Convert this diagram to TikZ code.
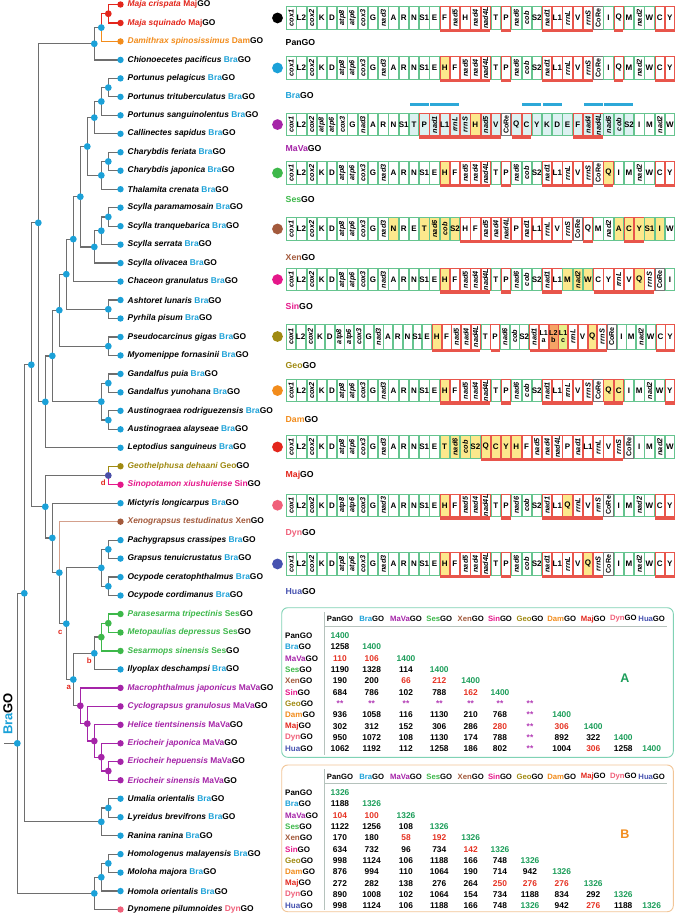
\documentclass[tikz,border=0pt]{standalone}
\usepackage{fontspec}
\setmainfont{Liberation Sans}
\usetikzlibrary{calc}
\definecolor{lg}{HTML}{6E6E6E}
\definecolor{cBra}{HTML}{1BA1D8}
\definecolor{cMaj}{HTML}{E3261C}
\definecolor{cDam}{HTML}{F28C1C}
\definecolor{cGeo}{HTML}{A08A12}
\definecolor{cSin}{HTML}{E5178A}
\definecolor{cXen}{HTML}{A35A3C}
\definecolor{cXenL}{HTML}{D4A08C}
\definecolor{cSes}{HTML}{3DB84A}
\definecolor{cMaVa}{HTML}{A524A8}
\definecolor{cDyn}{HTML}{F0607A}
\definecolor{cHua}{HTML}{4652B0}
\definecolor{cNavy}{HTML}{4A4FA8}
\definecolor{bG}{HTML}{66C48F}
\definecolor{bR}{HTML}{E8554B}
\definecolor{bK}{HTML}{7A7A7A}
\definecolor{fY}{HTML}{FCE88C}
\definecolor{fC}{HTML}{DCF1F1}
\definecolor{fO}{HTML}{F5A365}
\definecolor{fL}{HTML}{E6F08A}
\definecolor{tg}{HTML}{1C9E5A}
\definecolor{tr}{HTML}{E63222}
\definecolor{tp}{HTML}{B23AB5}
\definecolor{tk}{HTML}{000000}
\definecolor{boxA}{HTML}{80D2B5}
\definecolor{boxB}{HTML}{F2C597}
\definecolor{rule}{HTML}{B5C2BC}
\definecolor{bar}{HTML}{2DA8D8}

\tikzset{
  edge/.style={line width=1.25pt, lg},
  tup/.style={font=\bfseries\fontsize{8}{9}\selectfont, inner sep=0pt},
  trot/.style={font=\bfseries\itshape\fontsize{7.3}{8}\selectfont, rotate=90, inner sep=0pt},
  tcore/.style={font=\bfseries\fontsize{7.1}{8}\selectfont, rotate=90, inner sep=0pt},
  ttwo/.style={font=\bfseries\fontsize{7.2}{7.6}\selectfont, align=center, inner sep=0pt},
  lbl/.style={anchor=west, inner sep=0pt, font=\bfseries\fontsize{8.4}{10}\selectfont},
  glab/.style={anchor=west, inner sep=0pt, font=\bfseries\fontsize{8.7}{10}\selectfont},
  clab/.style={font=\bfseries\fontsize{7.8}{9}\selectfont, text=cMaj, inner sep=0pt},
  rlab/.style={anchor=west, inner sep=0pt, font=\bfseries\fontsize{8}{9}\selectfont},
  hlab/.style={inner sep=0pt, font=\bfseries\fontsize{7.7}{9}\selectfont},
  tval/.style={inner sep=0pt, font=\bfseries\fontsize{8.4}{9}\selectfont},
}

\newcommand\mkcell[8]{%
  \filldraw[draw=#5, fill=#6, line width=0.65pt] ({#1+0.4},{#2}) rectangle ({#1+#3-0.4},{#2+#4});
  \node[#7] at ({#1+#3/2},{#2+#4/2}) {#8};}
\newcommand\gcXg[5]{\mkcell{#1}{#2}{#3}{#4}{bG}{white}{tup}{#5}}
\newcommand\gcXG[5]{\mkcell{#1}{#2}{#3}{#4}{bG}{white}{trot}{#5}}
\newcommand\gcXr[5]{\mkcell{#1}{#2}{#3}{#4}{bR}{white}{tup}{#5}}
\newcommand\gcXR[5]{\mkcell{#1}{#2}{#3}{#4}{bR}{white}{trot}{#5}}
\newcommand\gcXC[5]{\mkcell{#1}{#2}{#3}{#4}{bK}{white}{tcore}{#5}}
\newcommand\gcXyg[5]{\mkcell{#1}{#2}{#3}{#4}{bG}{fY}{tup}{#5}}
\newcommand\gcXyG[5]{\mkcell{#1}{#2}{#3}{#4}{bG}{fY}{trot}{#5}}
\newcommand\gcXyr[5]{\mkcell{#1}{#2}{#3}{#4}{bR}{fY}{tup}{#5}}
\newcommand\gcXyR[5]{\mkcell{#1}{#2}{#3}{#4}{bR}{fY}{trot}{#5}}
\newcommand\gcXcg[5]{\mkcell{#1}{#2}{#3}{#4}{bG}{fC}{tup}{#5}}
\newcommand\gcXcG[5]{\mkcell{#1}{#2}{#3}{#4}{bG}{fC}{trot}{#5}}
\newcommand\gcXcr[5]{\mkcell{#1}{#2}{#3}{#4}{bR}{fC}{tup}{#5}}
\newcommand\gcXcR[5]{\mkcell{#1}{#2}{#3}{#4}{bR}{fC}{trot}{#5}}
\newcommand\gcXqa[5]{\mkcell{#1}{#2}{#3}{#4}{bR}{white}{ttwo}{L1\\a}}
\newcommand\gcXqb[5]{\mkcell{#1}{#2}{#3}{#4}{bR}{fO}{ttwo}{L2\\b}}
\newcommand\gcXqc[5]{\mkcell{#1}{#2}{#3}{#4}{bR}{fL}{ttwo}{L1\\c}}

\newcommand\gostrip[5]{%
  \pgfmathsetmacro\cw{389/#2}
  \foreach \tx/\sc [count=\i from 0] in {#4} {
    \pgfmathsetmacro\xl{286+\i*\cw}
    \csname gcX\sc\endcsname{\xl}{#1}{\cw}{#3}{\tx}
  }
  \foreach \a/\b in {#5} {
    \fill[bR] ({286+(\a-1)*\cw+0.4},{#1+#3+0.3}) rectangle ({286+\b*\cw-0.4},{#1+#3+3});
  }}
\newcommand\golab[5]{%
  \fill[#3] (277.5,{#1+#2/2}) circle (5.4);
  \node[glab] at (285.5,#5) {\textcolor{#3}{#4}GO};}

\newcommand\tn[6]{%
  \path ($(#3)!0.5!(#4)$) coordinate (m#1);
  \coordinate (#1) at (X#2 |- m#1);
  \draw[edge,#5] (#1) |- (#3);
  \draw[edge,#6] (#1) |- (#4);}
\newcommand\lf[5]{%
  \fill[#4] (l#1) circle (3.2);
  \node[lbl, text=#2] at ($(l#1)+(7,0)$) {\itshape #3\ \upshape\textcolor{#4}{#5}\textcolor{black}{GO}};}

\newcommand\trow[4]{%
  \node[rlab] at (285,#1) {\textcolor{#2}{#3}GO};
  \foreach \v/\c [count=\j from 0] in {#4} {
    \pgfmathsetmacro\cx{{340,371.7,406,439.3,470.7,500,530,561.7,593.3,623.3,651.7}[\j]}
    \node[tval, text=\c] at (\cx,#1) {\v};
  }}
\newcommand\thead[1]{%
  \foreach \ab/\c [count=\j from 0] in {Pan/black,Bra/cBra,MaVa/cMaVa,Ses/cSes,Xen/cXen,Sin/cSin,Geo/cGeo,Dam/cDam,Maj/cMaj,Dyn/cDyn,Hua/cHua} {
    \pgfmathsetmacro\cx{{340,371.7,406,439.3,470.7,500,530,561.7,593.3,623.3,651.7}[\j]}
    \node[hlab] at (\cx,#1) {\textcolor{\c}{\ab}GO};
  }}

\begin{document}
\begin{tikzpicture}[x=1pt,y=-1pt]
\fill[white] (0,0) rectangle (675,914);
\useasboundingbox (0,0) rectangle (675,914);

% ---------------- tree ----------------
\foreach \L in {0,...,13} \coordinate (X\L) at ({108.3-7*\L},0);
\foreach \i in {1,...,50} \coordinate (l\i) at (120.5,{4.5+18.47*(\i-1)});

\tn{n1}{0}{l1}{l2}{cMaj}{cMaj}
\tn{n2}{1}{n1}{l3}{cMaj}{cDam}
\tn{n3}{2}{n2}{l4}{lg}{lg}
\tn{n4}{0}{l5}{l6}{lg}{lg}
\tn{n5}{1}{n4}{l7}{lg}{lg}
\tn{n6}{2}{n5}{l8}{lg}{lg}
\tn{n7}{0}{l9}{l10}{lg}{lg}
\tn{n8}{1}{n7}{l11}{lg}{lg}
\tn{n9}{3}{n6}{n8}{lg}{lg}
\tn{n10}{0}{l12}{l13}{lg}{lg}
\tn{n11}{1}{n10}{l14}{lg}{lg}
\tn{n12}{2}{n11}{l15}{lg}{lg}
\tn{n13}{4}{n9}{n12}{lg}{lg}
\tn{n14}{5}{n13}{l16}{lg}{lg}
\tn{n15}{0}{l17}{l18}{lg}{lg}
\tn{n16}{6}{n14}{n15}{lg}{lg}
\tn{n17}{0}{l19}{l20}{lg}{lg}
\tn{n18}{7}{n16}{n17}{lg}{lg}
\tn{n19}{0}{l21}{l22}{lg}{lg}
\tn{n20}{0}{l23}{l24}{lg}{lg}
\tn{n21}{1}{n19}{n20}{lg}{lg}
\tn{n22}{8}{n18}{n21}{lg}{lg}
\tn{n23}{9}{n22}{l25}{lg}{lg}
\tn{n24}{10}{n3}{n23}{lg}{lg}
\tn{n25}{0}{l26}{l27}{cGeo}{cSin}
\tn{n26}{0}{l30}{l31}{lg}{lg}
\tn{n27}{0}{l32}{l33}{lg}{lg}
\tn{n28}{1}{n26}{n27}{lg}{lg}
\tn{n29}{0}{l34}{l35}{cSes}{cSes}
\tn{n30}{1}{n29}{l36}{cSes}{cSes}
\tn{n31}{2}{n30}{l37}{lg}{lg}
\tn{n32}{0}{l42}{l43}{cMaVa}{cMaVa}
\tn{n33}{1}{l41}{n32}{cMaVa}{cMaVa}
\tn{n34}{2}{l40}{n33}{cMaVa}{cMaVa}
\tn{n35}{3}{l39}{n34}{cMaVa}{cMaVa}
\tn{n36}{4}{l38}{n35}{cMaVa}{cMaVa}
\tn{n37}{5}{n31}{n36}{lg}{lg}
\tn{n38}{6}{n28}{n37}{lg}{lg}
\tn{n39}{7}{l29}{n38}{cXenL}{lg}
\tn{n40}{8}{l28}{n39}{lg}{lg}
\tn{n41}{9}{n25}{n40}{lg}{lg}
\tn{n42}{11}{n24}{n41}{lg}{lg}
\tn{n43}{0}{l44}{l45}{lg}{lg}
\tn{n44}{1}{n43}{l46}{lg}{lg}
\tn{n45}{12}{n42}{n44}{lg}{lg}
\tn{n46}{0}{l47}{l48}{lg}{lg}
\tn{n47}{1}{n46}{l49}{lg}{lg}
\tn{n48}{2}{n47}{l50}{lg}{lg}
\tn{root}{13}{n45}{n48}{lg}{lg}
\coordinate (stem) at ($(root)+(-13,0)$);
\draw[edge] (stem) -- (root);

\foreach \n/\c in {n1/cMaj,n2/cBra,n3/cBra,n4/cBra,n5/cBra,n6/cBra,n7/cBra,n8/cBra,n9/cBra,n10/cBra,n11/cBra,n12/cBra,n13/cBra,n14/cBra,n15/cBra,n16/cBra,n17/cBra,n18/cBra,n19/cBra,n20/cBra,n21/cBra,n22/cBra,n23/cBra,n24/cBra,n25/cNavy,n26/cBra,n27/cBra,n28/cBra,n29/cSes,n30/cSes,n31/cBra,n32/cMaVa,n33/cMaVa,n34/cMaVa,n35/cMaVa,n36/cMaVa,n37/cBra,n38/cBra,n39/cBra,n40/cBra,n41/cBra,n42/cBra,n43/cBra,n44/cBra,n45/cBra,n46/cBra,n47/cBra,n48/cBra,root/cBra}
  \fill[fill=\c] (\n) circle (3.4);

\node[clab] (la) at ($(n37)+(-4.5,8)$) {a};
\node[clab] (lb) at ($(n31)+(-5,7)$) {b};
\node[clab] (lc) at ($(n38)+(-6,8.5)$) {c};
\node[clab] (ld) at ($(n25)+(-5,7.5)$) {d};

\node[rotate=90, inner sep=0pt, font=\bfseries\fontsize{13}{14}\selectfont] (bra) at (8,714) {\textcolor{cBra}{Bra}GO};

\lf{1}{cMaj}{Maja crispata}{cMaj}{Maj}
\lf{2}{cMaj}{Maja squinado}{cMaj}{Maj}
\lf{3}{cDam}{Damithrax spinosissimus}{cDam}{Dam}
\lf{4}{black}{Chionoecetes pacificus}{cBra}{Bra}
\lf{5}{black}{Portunus pelagicus}{cBra}{Bra}
\lf{6}{black}{Portunus trituberculatus}{cBra}{Bra}
\lf{7}{black}{Portunus sanguinolentus}{cBra}{Bra}
\lf{8}{black}{Callinectes sapidus}{cBra}{Bra}
\lf{9}{black}{Charybdis feriata}{cBra}{Bra}
\lf{10}{black}{Charybdis japonica}{cBra}{Bra}
\lf{11}{black}{Thalamita crenata}{cBra}{Bra}
\lf{12}{black}{Scylla paramamosain}{cBra}{Bra}
\lf{13}{black}{Scylla tranquebarica}{cBra}{Bra}
\lf{14}{black}{Scylla serrata}{cBra}{Bra}
\lf{15}{black}{Scylla olivacea}{cBra}{Bra}
\lf{16}{black}{Chaceon granulatus}{cBra}{Bra}
\lf{17}{black}{Ashtoret lunaris}{cBra}{Bra}
\lf{18}{black}{Pyrhila pisum}{cBra}{Bra}
\lf{19}{black}{Pseudocarcinus gigas}{cBra}{Bra}
\lf{20}{black}{Myomenippe fornasinii}{cBra}{Bra}
\lf{21}{black}{Gandalfus puia}{cBra}{Bra}
\lf{22}{black}{Gandalfus yunohana}{cBra}{Bra}
\lf{23}{black}{Austinograea rodriguezensis}{cBra}{Bra}
\lf{24}{black}{Austinograea alayseae}{cBra}{Bra}
\lf{25}{black}{Leptodius sanguineus}{cBra}{Bra}
\lf{26}{cGeo}{Geothelphusa dehaani}{cGeo}{Geo}
\lf{27}{cSin}{Sinopotamon xiushuiense}{cSin}{Sin}
\lf{28}{black}{Mictyris longicarpus}{cBra}{Bra}
\lf{29}{cXen}{Xenograpsus testudinatus}{cXen}{Xen}
\lf{30}{black}{Pachygrapsus crassipes}{cBra}{Bra}
\lf{31}{black}{Grapsus tenuicrustatus}{cBra}{Bra}
\lf{32}{black}{Ocypode ceratophthalmus}{cBra}{Bra}
\lf{33}{black}{Ocypode cordimanus}{cBra}{Bra}
\lf{34}{cSes}{Parasesarma tripectinis}{cSes}{Ses}
\lf{35}{cSes}{Metopaulias depressus}{cSes}{Ses}
\lf{36}{cSes}{Sesarmops sinensis}{cSes}{Ses}
\lf{37}{black}{Ilyoplax deschampsi}{cBra}{Bra}
\lf{38}{cMaVa}{Macrophthalmus japonicus}{cMaVa}{MaVa}
\lf{39}{cMaVa}{Cyclograpsus granulosus}{cMaVa}{MaVa}
\lf{40}{cMaVa}{Helice tientsinensis}{cMaVa}{MaVa}
\lf{41}{cMaVa}{Eriocheir japonica}{cMaVa}{MaVa}
\lf{42}{cMaVa}{Eriocheir hepuensis}{cMaVa}{MaVa}
\lf{43}{cMaVa}{Eriocheir sinensis}{cMaVa}{MaVa}
\lf{44}{black}{Umalia orientalis}{cBra}{Bra}
\lf{45}{black}{Lyreidus brevifrons}{cBra}{Bra}
\lf{46}{black}{Ranina ranina}{cBra}{Bra}
\lf{47}{black}{Homologenus malayensis}{cBra}{Bra}
\lf{48}{black}{Moloha majora}{cBra}{Bra}
\lf{49}{black}{Homola orientalis}{cBra}{Bra}
\lf{50}{black}{Dynomene pilumnoides}{cDyn}{Dyn}

% ---------------- gene orders ----------------
\gostrip{6.7}{38}{22.5}{cox1/G,L2/g,cox2/G,K/g,D/g,atp8/G,atp6/G,cox3/G,G/g,nad3/G,A/g,R/g,N/g,S1/g,E/g,F/r,nad5/R,H/r,nad4/R,nad4L/R,T/g,P/r,nad6/G,cob/G,S2/g,nad1/R,L1/r,rrnL/R,V/r,rrnS/R,CoRe/C,I/g,Q/r,M/g,nad2/G,W/g,C/r,Y/r}{16/20,22/22,26/30,33/33,37/38}
\golab{6.7}{22.5}{black}{Pan}{42.5}

\gostrip{56.7}{38}{22.5}{cox1/G,L2/g,cox2/G,K/g,D/g,atp8/G,atp6/G,cox3/G,G/g,nad3/G,A/g,R/g,N/g,S1/g,E/g,H/yr,F/r,nad5/R,nad4/R,nad4L/R,T/g,P/r,nad6/G,cob/G,S2/g,nad1/R,L1/r,rrnL/R,V/r,rrnS/R,CoRe/C,I/g,Q/r,M/g,nad2/G,W/g,C/r,Y/r}{16/20,22/22,26/30,33/33,37/38}
\golab{56.7}{22.5}{cBra}{Bra}{95}

\gostrip{113.3}{38}{22.5}{cox1/G,L2/g,cox2/G,atp8/G,atp6/G,cox3/G,G/g,nad3/G,A/g,R/g,N/g,S1/g,T/cg,P/cr,nad1/cR,L1/cr,rrnL/cR,rrnS/cR,H/yr,nad5/cR,V/cr,CoRe/C,Q/cr,C/cr,Y/cg,K/cg,D/cg,E/cg,F/cr,nad4/cR,nad4L/cR,nad6/cG,cob/cG,S2/cg,I/g,M/g,nad2/G,W/g}{14/21,23/24,29/31}
\golab{113.3}{22.5}{cMaVa}{MaVa}{148.3}
\foreach \a/\b in {13/14,15/17,24/25,26/27,30/31,32/34}
  \fill[bar] ({286+(\a-1)*389/38+0.8},102.5) rectangle ({286+\b*389/38-0.8},105.5);

\gostrip{161.7}{38}{22.5}{cox1/G,L2/g,cox2/G,K/g,D/g,atp8/G,atp6/G,cox3/G,G/g,nad3/G,A/g,R/g,N/g,S1/g,E/g,H/yr,F/r,nad5/R,nad4/R,nad4L/R,T/g,P/r,nad6/G,cob/G,S2/g,nad1/R,L1/r,rrnL/R,V/r,rrnS/R,CoRe/C,Q/yr,I/g,M/g,nad2/G,W/g,C/r,Y/r}{16/20,22/22,26/30,32/32,37/38}
\golab{161.7}{22.5}{cSes}{Ses}{199.3}

\gostrip{217.7}{38}{22.5}{cox1/G,L2/g,cox2/G,K/g,D/g,atp8/G,atp6/G,cox3/G,G/g,nad3/G,N/yg,R/g,E/g,T/yg,nad6/yG,cob/yG,S2/yg,H/r,F/r,nad5/R,nad4/R,nad4L/R,P/r,nad1/R,L1/r,rrnL/R,V/r,rrnS/R,CoRe/C,Q/r,M/g,nad2/G,A/yg,C/yr,Y/yr,S1/yg,I/yg,W/g}{18/28,30/30,34/35}
\golab{217.7}{22.5}{cXen}{Xen}{257.3}

\gostrip{268.3}{38}{22.5}{cox1/G,L2/g,cox2/G,K/g,D/g,atp8/G,atp6/G,cox3/G,G/g,nad3/G,A/g,R/g,N/g,S1/g,E/g,H/yr,F/r,nad5/R,nad4/R,nad4L/R,T/g,P/r,nad6/G,cob/G,S2/g,nad1/R,L1/r,M/yg,nad2/yG,W/yg,C/r,Y/r,rrnL/R,V/r,Q/yr,rrnS/R,CoRe/C,I/g}{16/20,22/22,26/27,31/36}
\golab{268.3}{22.5}{cSin}{Sin}{306.7}

\gostrip{324}{40}{25}{cox1/G,L2/g,cox2/G,K/g,D/g,atp8/G,atp6/G,cox3/G,G/g,nad3/G,A/g,R/g,N/g,S1/g,E/g,H/yr,F/r,nad5/R,nad4/R,nad4L/R,T/g,P/r,nad6/G,cob/G,S2/g,nad1/R,L1a/qa,L2b/qb,L1c/qc,rrnL/R,V/r,Q/yr,rrnS/R,CoRe/C,I/g,M/g,nad2/G,W/g,C/r,Y/r}{16/20,22/22,26/33,39/40}
\golab{324}{25}{cGeo}{Geo}{365}

\gostrip{379.3}{38}{22.5}{cox1/G,L2/g,cox2/G,K/g,D/g,atp8/G,atp6/G,cox3/G,G/g,nad3/G,A/g,R/g,N/g,S1/g,E/g,H/yr,F/r,nad5/R,nad4/R,nad4L/R,T/g,P/r,nad6/G,cob/G,S2/g,nad1/R,L1/r,rrnL/R,V/r,rrnS/R,CoRe/C,Q/yr,C/yr,I/g,M/g,nad2/G,W/g,Y/r}{16/20,22/22,26/30,32/33,38/38}
\golab{379.3}{22.5}{cDam}{Dam}{419.3}

\gostrip{435.7}{38}{22.5}{cox1/G,L2/g,cox2/G,K/g,D/g,atp8/G,atp6/G,cox3/G,G/g,nad3/G,A/g,R/g,N/g,S1/g,E/g,T/yg,nad6/yG,cob/yG,S2/yg,Q/yr,C/yr,Y/yr,H/yr,F/r,nad5/R,nad4/R,nad4L/R,P/r,nad1/R,L1/r,rrnL/R,V/r,rrnS/R,CoRe/C,I/g,M/g,nad2/G,W/g}{20/33}
\golab{435.7}{22.5}{cMaj}{Maj}{475.7}

\gostrip{494}{38}{22.5}{cox1/G,L2/g,cox2/G,K/g,D/g,atp8/G,atp6/G,cox3/G,G/g,nad3/G,A/g,R/g,N/g,S1/g,E/g,H/yr,F/r,nad5/R,nad4/R,nad4L/R,T/g,P/r,nad6/G,cob/G,S2/g,nad1/R,L1/r,Q/yr,rrnL/R,V/r,rrnS/R,CoRe/C,I/g,M/g,nad2/G,W/g,C/r,Y/r}{16/20,22/22,26/31,37/38}
\golab{494}{22.5}{cDyn}{Dyn}{533.3}

\gostrip{552.7}{38}{22.5}{cox1/G,L2/g,cox2/G,K/g,D/g,atp8/G,atp6/G,cox3/G,G/g,nad3/G,A/g,R/g,N/g,S1/g,E/g,H/yr,F/r,nad5/R,nad4/R,nad4L/R,T/g,P/r,nad6/G,cob/G,S2/g,nad1/R,L1/r,rrnL/R,V/r,Q/yr,rrnS/R,CoRe/C,I/g,M/g,nad2/G,W/g,C/r,Y/r}{16/20,22/22,26/31,37/38}
\golab{552.7}{22.5}{cHua}{Hua}{591}

% ---------------- table A ----------------
\draw[boxA, line width=0.9pt, rounded corners=6pt] (281.7,607.7) rectangle (673.3,757.3);
\draw[rule, line width=0.6pt] (324,612) -- (324,755);
\draw[rule, line width=0.6pt] (324,626.7) -- (667,626.7);
\thead{619}
\trow{635.7}{black}{Pan}{1400/tg}
\trow{647.0}{cBra}{Bra}{1258/tk,1400/tg}
\trow{658.4}{cMaVa}{MaVa}{110/tr,106/tr,1400/tg}
\trow{669.7}{cSes}{Ses}{1190/tk,1328/tk,114/tk,1400/tg}
\trow{681.0}{cXen}{Xen}{190/tk,200/tk,66/tr,212/tr,1400/tg}
\trow{692.4}{cSin}{Sin}{684/tk,786/tk,102/tk,788/tk,162/tr,1400/tg}
\trow{703.7}{cGeo}{Geo}{**/tp,**/tp,**/tp,**/tp,**/tp,**/tp,**/tp}
\trow{715.0}{cDam}{Dam}{936/tk,1058/tk,116/tk,1130/tk,210/tk,768/tk,**/tp,1400/tg}
\trow{726.3}{cMaj}{Maj}{302/tk,312/tk,152/tk,306/tk,286/tk,280/tr,**/tp,306/tr,1400/tg}
\trow{737.7}{cDyn}{Dyn}{950/tk,1072/tk,108/tk,1130/tk,174/tk,788/tk,**/tp,892/tk,322/tk,1400/tg}
\trow{749.0}{cHua}{Hua}{1062/tk,1192/tk,112/tk,1258/tk,186/tk,802/tk,**/tp,1004/tk,306/tr,1258/tk,1400/tg}
\node[font=\bfseries\fontsize{12.5}{14}\selectfont, text=tg, inner sep=0pt] (tA) at (625,678.3) {A};

% ---------------- table B ----------------
\draw[boxB, line width=0.9pt, rounded corners=6pt] (281.7,765) rectangle (673.3,911.7);
\draw[rule, line width=0.6pt] (324,769) -- (324,910);
\draw[rule, line width=0.6pt] (324,783.3) -- (667,783.3);
\thead{776.7}
\trow{792.7}{black}{Pan}{1326/tg}
\trow{804.0}{cBra}{Bra}{1188/tk,1326/tg}
\trow{815.3}{cMaVa}{MaVa}{104/tr,100/tr,1326/tg}
\trow{826.7}{cSes}{Ses}{1122/tk,1256/tk,108/tk,1326/tg}
\trow{838.0}{cXen}{Xen}{170/tk,180/tk,58/tr,192/tr,1326/tg}
\trow{849.3}{cSin}{Sin}{634/tk,732/tk,96/tk,734/tk,142/tr,1326/tg}
\trow{860.7}{cGeo}{Geo}{998/tk,1124/tk,106/tk,1188/tk,166/tk,748/tk,1326/tg}
\trow{872.0}{cDam}{Dam}{876/tk,994/tk,110/tk,1064/tk,190/tk,714/tk,942/tk,1326/tg}
\trow{883.3}{cMaj}{Maj}{272/tk,282/tk,138/tk,276/tk,264/tk,250/tr,276/tr,276/tr,1326/tg}
\trow{894.7}{cDyn}{Dyn}{890/tk,1008/tk,102/tk,1064/tk,154/tk,734/tk,1188/tk,834/tk,292/tk,1326/tg}
\trow{906.0}{cHua}{Hua}{998/tk,1124/tk,106/tk,1188/tk,166/tk,748/tk,1326/tg,942/tk,276/tr,1188/tk,1326/tg}
\node[font=\bfseries\fontsize{12.5}{14}\selectfont, text=cDam, inner sep=0pt] (tB) at (625,834) {B};
\end{tikzpicture}
\end{document}
